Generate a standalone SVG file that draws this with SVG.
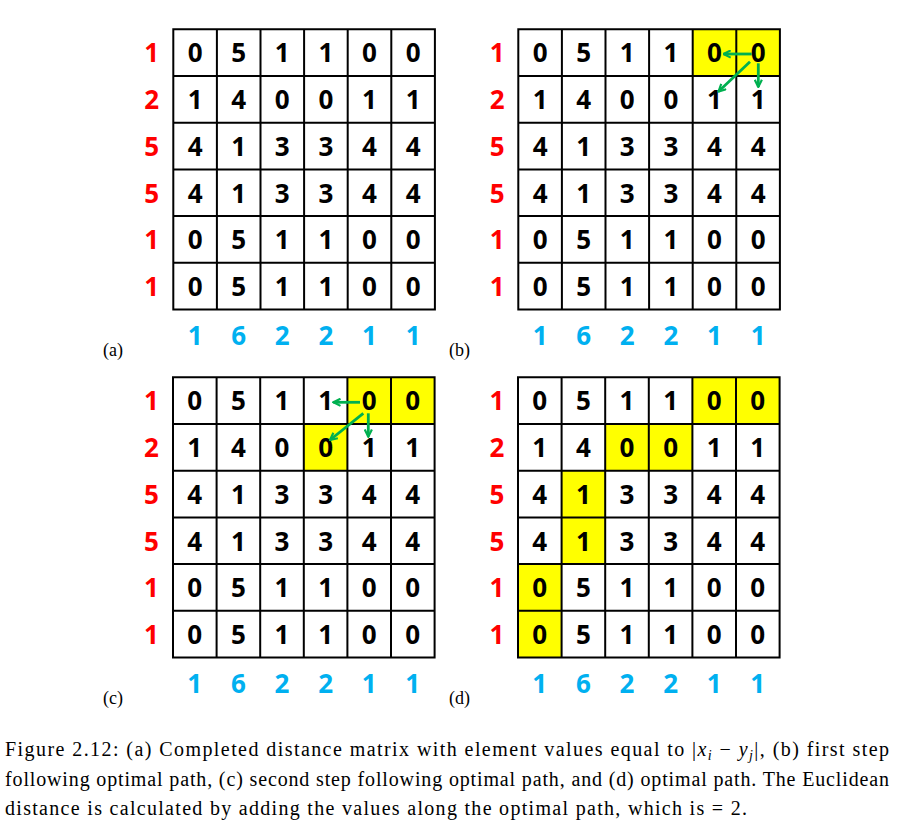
<svg xmlns="http://www.w3.org/2000/svg" xmlns:xlink="http://www.w3.org/1999/xlink" width="906" height="839" viewBox="0 0 906 839">
<style>
.bg{fill:#fff}
.hl{fill:#FFFF00}
.grid{fill:none;stroke:#000;stroke-width:2}
.d text,.r text,.b text{font-family:"Open Sans",Lato,sans-serif;font-weight:700;font-size:26px;text-anchor:middle}
.d text{fill:#000}
.r text{fill:#FF0000}
.b text{fill:#00B0F0}
.lbl{font-family:"Liberation Serif",serif;font-size:18px;fill:#000}
.cap{font-family:"Liberation Serif",serif;font-size:20px;fill:#000}
.arr{fill:none;stroke:#00B050;stroke-width:2.8;marker-end:url(#ah)}
</style>
<defs>
<marker id="ah" viewBox="0 0 10 10" refX="9" refY="5" markerUnits="userSpaceOnUse" markerWidth="9" markerHeight="9" orient="auto">
<path d="M1 1L9 5L1 9" fill="none" stroke="#00B050" stroke-width="2.4"/>
</marker>
<path id="gridp" class="grid" d="M0 0H261.6V280.2H0Z M43.6 0V280.2 M87.2 0V280.2 M130.8 0V280.2 M174.4 0V280.2 M218 0V280.2 M0 46.7H261.6 M0 93.4H261.6 M0 140.1H261.6 M0 186.8H261.6 M0 233.5H261.6"/>
</defs>
<rect width="906" height="839" fill="#fff"/>

<g id="panel-a" transform="translate(173.3,29.3)">
<rect class="bg" width="261.6" height="280.2"/>
<use xlink:href="#gridp"/>
<g class="d">
<text x="21.8" y="33.2">0</text><text x="65.4" y="33.2">5</text><text x="109" y="33.2">1</text><text x="152.6" y="33.2">1</text><text x="196.2" y="33.2">0</text><text x="239.8" y="33.2">0</text>
<text x="21.8" y="79.9">1</text><text x="65.4" y="79.9">4</text><text x="109" y="79.9">0</text><text x="152.6" y="79.9">0</text><text x="196.2" y="79.9">1</text><text x="239.8" y="79.9">1</text>
<text x="21.8" y="126.6">4</text><text x="65.4" y="126.6">1</text><text x="109" y="126.6">3</text><text x="152.6" y="126.6">3</text><text x="196.2" y="126.6">4</text><text x="239.8" y="126.6">4</text>
<text x="21.8" y="173.3">4</text><text x="65.4" y="173.3">1</text><text x="109" y="173.3">3</text><text x="152.6" y="173.3">3</text><text x="196.2" y="173.3">4</text><text x="239.8" y="173.3">4</text>
<text x="21.8" y="220">0</text><text x="65.4" y="220">5</text><text x="109" y="220">1</text><text x="152.6" y="220">1</text><text x="196.2" y="220">0</text><text x="239.8" y="220">0</text>
<text x="21.8" y="266.7">0</text><text x="65.4" y="266.7">5</text><text x="109" y="266.7">1</text><text x="152.6" y="266.7">1</text><text x="196.2" y="266.7">0</text><text x="239.8" y="266.7">0</text>
</g>
<g class="r">
<text x="-21.5" y="33.2">1</text><text x="-21.5" y="79.9">2</text><text x="-21.5" y="126.6">5</text><text x="-21.5" y="173.3">5</text><text x="-21.5" y="220">1</text><text x="-21.5" y="266.7">1</text>
</g>
<g class="b">
<text x="21.8" y="315.8">1</text><text x="65.4" y="315.8">6</text><text x="109" y="315.8">2</text><text x="152.6" y="315.8">2</text><text x="196.2" y="315.8">1</text><text x="239.8" y="315.8">1</text>
</g>
<text class="lbl" x="-70.3" y="327">(a)</text>
</g>

<g id="panel-b" transform="translate(518.3,29.3)">
<rect class="bg" width="261.6" height="280.2"/>
<rect class="hl" x="174.4" y="0" width="43.6" height="46.7"/>
<rect class="hl" x="218" y="0" width="43.6" height="46.7"/>
<use xlink:href="#gridp"/>
<g class="d">
<text x="21.8" y="33.2">0</text><text x="65.4" y="33.2">5</text><text x="109" y="33.2">1</text><text x="152.6" y="33.2">1</text><text x="196.2" y="33.2">0</text><text x="239.8" y="33.2">0</text>
<text x="21.8" y="79.9">1</text><text x="65.4" y="79.9">4</text><text x="109" y="79.9">0</text><text x="152.6" y="79.9">0</text><text x="196.2" y="79.9">1</text><text x="239.8" y="79.9">1</text>
<text x="21.8" y="126.6">4</text><text x="65.4" y="126.6">1</text><text x="109" y="126.6">3</text><text x="152.6" y="126.6">3</text><text x="196.2" y="126.6">4</text><text x="239.8" y="126.6">4</text>
<text x="21.8" y="173.3">4</text><text x="65.4" y="173.3">1</text><text x="109" y="173.3">3</text><text x="152.6" y="173.3">3</text><text x="196.2" y="173.3">4</text><text x="239.8" y="173.3">4</text>
<text x="21.8" y="220">0</text><text x="65.4" y="220">5</text><text x="109" y="220">1</text><text x="152.6" y="220">1</text><text x="196.2" y="220">0</text><text x="239.8" y="220">0</text>
<text x="21.8" y="266.7">0</text><text x="65.4" y="266.7">5</text><text x="109" y="266.7">1</text><text x="152.6" y="266.7">1</text><text x="196.2" y="266.7">0</text><text x="239.8" y="266.7">0</text>
</g>
<g class="r">
<text x="-21" y="33.2">1</text><text x="-21" y="79.9">2</text><text x="-21" y="126.6">5</text><text x="-21" y="173.3">5</text><text x="-21" y="220">1</text><text x="-21" y="266.7">1</text>
</g>
<g class="b">
<text x="21.8" y="315.8">1</text><text x="65.4" y="315.8">6</text><text x="109" y="315.8">2</text><text x="152.6" y="315.8">2</text><text x="196.2" y="315.8">1</text><text x="239.8" y="315.8">1</text>
</g>
<text class="lbl" x="-69.3" y="327">(b)</text>
</g>

<g id="panel-c" transform="translate(173,377.3)">
<rect class="bg" width="261.6" height="280.2"/>
<rect class="hl" x="174.4" y="0" width="43.6" height="46.7"/>
<rect class="hl" x="218" y="0" width="43.6" height="46.7"/>
<rect class="hl" x="130.8" y="46.7" width="43.6" height="46.7"/>
<use xlink:href="#gridp"/>
<g class="d">
<text x="21.8" y="33.2">0</text><text x="65.4" y="33.2">5</text><text x="109" y="33.2">1</text><text x="152.6" y="33.2">1</text><text x="196.2" y="33.2">0</text><text x="239.8" y="33.2">0</text>
<text x="21.8" y="79.9">1</text><text x="65.4" y="79.9">4</text><text x="109" y="79.9">0</text><text x="152.6" y="79.9">0</text><text x="196.2" y="79.9">1</text><text x="239.8" y="79.9">1</text>
<text x="21.8" y="126.6">4</text><text x="65.4" y="126.6">1</text><text x="109" y="126.6">3</text><text x="152.6" y="126.6">3</text><text x="196.2" y="126.6">4</text><text x="239.8" y="126.6">4</text>
<text x="21.8" y="173.3">4</text><text x="65.4" y="173.3">1</text><text x="109" y="173.3">3</text><text x="152.6" y="173.3">3</text><text x="196.2" y="173.3">4</text><text x="239.8" y="173.3">4</text>
<text x="21.8" y="220">0</text><text x="65.4" y="220">5</text><text x="109" y="220">1</text><text x="152.6" y="220">1</text><text x="196.2" y="220">0</text><text x="239.8" y="220">0</text>
<text x="21.8" y="266.7">0</text><text x="65.4" y="266.7">5</text><text x="109" y="266.7">1</text><text x="152.6" y="266.7">1</text><text x="196.2" y="266.7">0</text><text x="239.8" y="266.7">0</text>
</g>
<g class="r">
<text x="-21.5" y="33.2">1</text><text x="-21.5" y="79.9">2</text><text x="-21.5" y="126.6">5</text><text x="-21.5" y="173.3">5</text><text x="-21.5" y="220">1</text><text x="-21.5" y="266.7">1</text>
</g>
<g class="b">
<text x="21.8" y="315.8">1</text><text x="65.4" y="315.8">6</text><text x="109" y="315.8">2</text><text x="152.6" y="315.8">2</text><text x="196.2" y="315.8">1</text><text x="239.8" y="315.8">1</text>
</g>
<text class="lbl" x="-70" y="326.7">(c)</text>
</g>

<g id="panel-d" transform="translate(518,377.3)">
<rect class="bg" width="261.6" height="280.2"/>
<rect class="hl" x="174.4" y="0" width="43.6" height="46.7"/>
<rect class="hl" x="218" y="0" width="43.6" height="46.7"/>
<rect class="hl" x="87.2" y="46.7" width="43.6" height="46.7"/>
<rect class="hl" x="130.8" y="46.7" width="43.6" height="46.7"/>
<rect class="hl" x="43.6" y="93.4" width="43.6" height="46.7"/>
<rect class="hl" x="43.6" y="140.1" width="43.6" height="46.7"/>
<rect class="hl" x="0" y="186.8" width="43.6" height="46.7"/>
<rect class="hl" x="0" y="233.5" width="43.6" height="46.7"/>
<use xlink:href="#gridp"/>
<g class="d">
<text x="21.8" y="33.2">0</text><text x="65.4" y="33.2">5</text><text x="109" y="33.2">1</text><text x="152.6" y="33.2">1</text><text x="196.2" y="33.2">0</text><text x="239.8" y="33.2">0</text>
<text x="21.8" y="79.9">1</text><text x="65.4" y="79.9">4</text><text x="109" y="79.9">0</text><text x="152.6" y="79.9">0</text><text x="196.2" y="79.9">1</text><text x="239.8" y="79.9">1</text>
<text x="21.8" y="126.6">4</text><text x="65.4" y="126.6">1</text><text x="109" y="126.6">3</text><text x="152.6" y="126.6">3</text><text x="196.2" y="126.6">4</text><text x="239.8" y="126.6">4</text>
<text x="21.8" y="173.3">4</text><text x="65.4" y="173.3">1</text><text x="109" y="173.3">3</text><text x="152.6" y="173.3">3</text><text x="196.2" y="173.3">4</text><text x="239.8" y="173.3">4</text>
<text x="21.8" y="220">0</text><text x="65.4" y="220">5</text><text x="109" y="220">1</text><text x="152.6" y="220">1</text><text x="196.2" y="220">0</text><text x="239.8" y="220">0</text>
<text x="21.8" y="266.7">0</text><text x="65.4" y="266.7">5</text><text x="109" y="266.7">1</text><text x="152.6" y="266.7">1</text><text x="196.2" y="266.7">0</text><text x="239.8" y="266.7">0</text>
</g>
<g class="r">
<text x="-21" y="33.2">1</text><text x="-21" y="79.9">2</text><text x="-21" y="126.6">5</text><text x="-21" y="173.3">5</text><text x="-21" y="220">1</text><text x="-21" y="266.7">1</text>
</g>
<g class="b">
<text x="21.8" y="315.8">1</text><text x="65.4" y="315.8">6</text><text x="109" y="315.8">2</text><text x="152.6" y="315.8">2</text><text x="196.2" y="315.8">1</text><text x="239.8" y="315.8">1</text>
</g>
<text class="lbl" x="-69" y="326.7">(d)</text>
</g>

<g id="connectors">
<path class="arr" d="M751.7 54H723.5"/>
<path class="arr" d="M750 61.7L718.5 91.5"/>
<path class="arr" d="M758.3 63.3V87"/>
<path class="arr" d="M360 402.3H333.3"/>
<path class="arr" d="M363.3 413.3L330 440"/>
<path class="arr" d="M368.3 413.3V436.7"/>
</g>

<g id="caption">
<text class="cap" x="5" y="756" textLength="884" lengthAdjust="spacing">Figure 2.12: (a) Completed distance matrix with element values equal to |<tspan font-style="italic">x</tspan><tspan font-size="14" dy="4" font-style="italic">i</tspan><tspan dy="-4"> − </tspan><tspan font-style="italic">y</tspan><tspan font-size="14" dy="4" font-style="italic">j</tspan><tspan dy="-4">|, (b) first step</tspan></text>
<text class="cap" x="5" y="786" textLength="884" lengthAdjust="spacing">following optimal path, (c) second step following optimal path, and (d) optimal path. The Euclidean</text>
<text class="cap" x="5" y="815" textLength="742" lengthAdjust="spacing">distance is calculated by adding the values along the optimal path, which is = 2.</text>
</g>
</svg>
